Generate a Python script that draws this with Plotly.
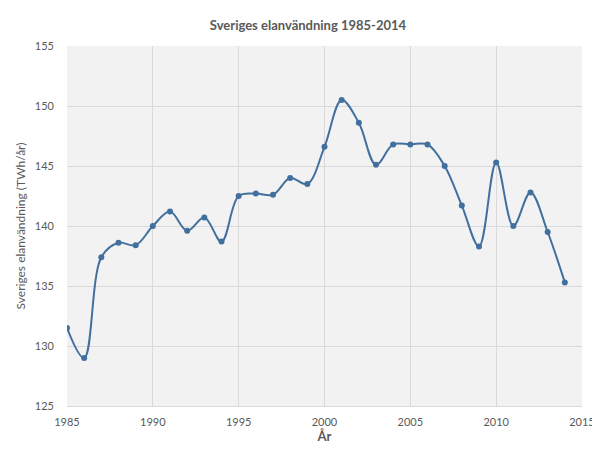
import plotly.graph_objects as go

years = list(range(1985, 2015))
twh = [131.5, 129.0, 137.4, 138.6, 138.4, 140.0, 141.2, 139.6, 140.7, 138.7,
       142.5, 142.7, 142.6, 144.0, 143.5, 146.6, 150.5, 148.6, 145.1, 146.8,
       146.8, 146.8, 145.0, 141.7, 138.3, 145.3, 140.0, 142.8, 139.5, 135.3]

x_ticks = [1985, 1990, 1995, 2000, 2005, 2010, 2015]
y_ticks = [125, 130, 135, 140, 145, 150, 155]

grey_txt = '#595959'
grid = '#d9d9d9'

fig = go.Figure()

fig.add_trace(go.Scatter(
    x=years, y=twh,
    mode='lines+markers',
    line=dict(color='#41709e', width=2, shape='spline', smoothing=1),
    marker=dict(color='#41709e', size=6),
    hoverinfo='x+y',
    showlegend=False))

fig.update_layout(
    width=600, height=449,
    margin=dict(l=59, r=26, t=38, b=51),
    paper_bgcolor='white',
    plot_bgcolor='#f2f2f2',
    font=dict(family='Lato, Open Sans, sans-serif', size=11, color=grey_txt),
    title=dict(text='<b>Sveriges elanvändning 1985-2014</b>',
               x=0.5, xanchor='center', y=0.962, yanchor='middle',
               font=dict(size=13, color=grey_txt)),
)

fig.update_xaxes(
    range=[1985, 2015], tickvals=x_ticks,
    showgrid=True, gridcolor=grid, gridwidth=1,
    zeroline=False, showline=True, linecolor=grid,
    ticks='', ticklabelstandoff=6, tickfont=dict(size=11, color=grey_txt),
    title=dict(text='<b>År</b>', font=dict(size=13, color=grey_txt), standoff=2))

fig.update_yaxes(
    range=[125, 155], tickvals=y_ticks,
    showgrid=True, gridcolor=grid, gridwidth=1,
    zeroline=False, showline=False,
    ticks='', ticklabelstandoff=12, tickfont=dict(size=11, color=grey_txt),
    title=dict(text='Sveriges elanvändning (TWh/år)',
               font=dict(size=12, color=grey_txt), standoff=6))

fig.write_html('out.html')
